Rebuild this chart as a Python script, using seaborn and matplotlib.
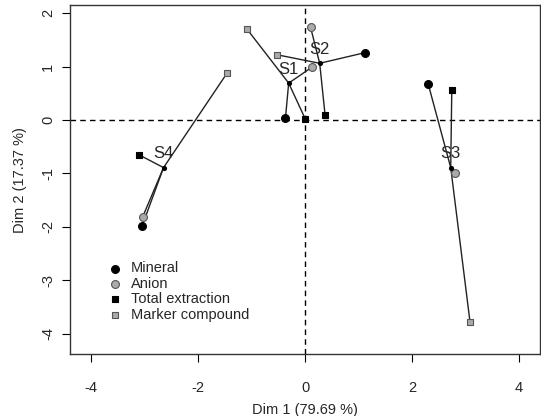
import numpy as np
import pandas as pd
import matplotlib
matplotlib.use("Agg")
import matplotlib.pyplot as plt
import seaborn as sns

# group centres (partial points) and the four tables
samples = ["S1", "S2", "S3", "S4"]
center_x = [-0.31, 0.27, 2.72, -2.65]
center_y = [0.69, 1.06, -0.89, -0.89]

mineral_x = [-0.37, 1.12, 2.30, -3.05]
mineral_y = [0.04, 1.26, 0.67, -1.98]
anion_x = [0.13, 0.10, 2.80, -3.04]
anion_y = [0.99, 1.73, -0.99, -1.81]
total_x = [0.00, 0.37, 2.74, -3.11]
total_y = [0.02, 0.10, 0.56, -0.65]
marker_x = [-1.09, -0.53, 3.08, -1.46]
marker_y = [1.70, 1.22, -3.77, 0.88]

groups = ["Mineral", "Anion", "Total extraction", "Marker compound"]

rows = []
for g, xs, ys in zip(groups, [mineral_x, anion_x, total_x, marker_x],
                     [mineral_y, anion_y, total_y, marker_y]):
    for s, xv, yv in zip(samples, xs, ys):
        rows.append({"group": g, "sample": s, "x": xv, "y": yv})
df = pd.DataFrame(rows)
centers = pd.DataFrame({"sample": samples, "x": center_x, "y": center_y})

sns.set_style("ticks")
plt.rcParams['font.family'] = ['Liberation Sans', 'DejaVu Sans']

fig = plt.figure(figsize=(5.41, 4.16), dpi=100)
ax = fig.add_axes([0.1303, 0.1483, 0.8679, 0.8397])

# dashed axes through origin
ax.axhline(0, color="black", ls=(0, (4, 3)), lw=1, zorder=1)
ax.axvline(0, color="black", ls=(0, (4, 3)), lw=1, zorder=1)

# segments from each centre to its partial points
for _, r in df.iterrows():
    c = centers[centers["sample"] == r["sample"]].iloc[0]
    ax.plot([c["x"], r["x"]], [c["y"], r["y"]], color="#222222", lw=1, zorder=2)

styles = {
    "Mineral": dict(marker="o", color="black", edgecolor="black", s=32),
    "Anion": dict(marker="o", color="#aaaaaa", edgecolor="#555555", s=32),
    "Total extraction": dict(marker="s", color="black", edgecolor="black", s=24),
    "Marker compound": dict(marker="s", color="#aaaaaa", edgecolor="#555555", s=24),
}
for g in groups:
    sns.scatterplot(data=df[df["group"] == g], x="x", y="y", ax=ax, label=g,
                    linewidth=0.8, zorder=3, **styles[g])

sns.scatterplot(data=centers, x="x", y="y", ax=ax, color="black", s=14,
                edgecolor="black", linewidth=0, zorder=4, legend=False)

for s, cx, cy in zip(samples, center_x, center_y):
    ax.annotate(s, (cx, cy), xytext=(0, 10), textcoords="offset points",
                ha="center", va="center", fontsize=12, zorder=5)

ax.set_xlim(-4.39, 4.39)
ax.set_ylim(-4.38, 2.15)
ax.set_xticks([-4, -2, 0, 2, 4])
ax.set_yticks([-4, -3, -2, -1, 0, 1, 2])
ax.set_xticklabels(["-4", "-2", "0", "2", "4"])
ax.set_yticklabels(["-4", "-3", "-2", "-1", "0", "1", "2"], rotation=90, va="center")
ax.tick_params(axis="both", length=6, width=0.8, labelsize=10.5, color="black")
ax.tick_params(axis="x", pad=13)
ax.tick_params(axis="y", pad=5)
ax.set_xlabel("Dim 1 (79.69 %)", fontsize=10.5, labelpad=6)
ax.set_ylabel("Dim 2 (17.37 %)", fontsize=10.5, labelpad=10)
for sp in ax.spines.values():
    sp.set_color("#333333")
    sp.set_linewidth(1)

ax.legend(loc="upper left", bbox_to_anchor=(0.079, 0.266), frameon=False,
          fontsize=10.5, handlelength=1.0, handletextpad=0.6, labelspacing=0.1,
          borderpad=0, borderaxespad=0)

fig.savefig("out.png", dpi=100)
